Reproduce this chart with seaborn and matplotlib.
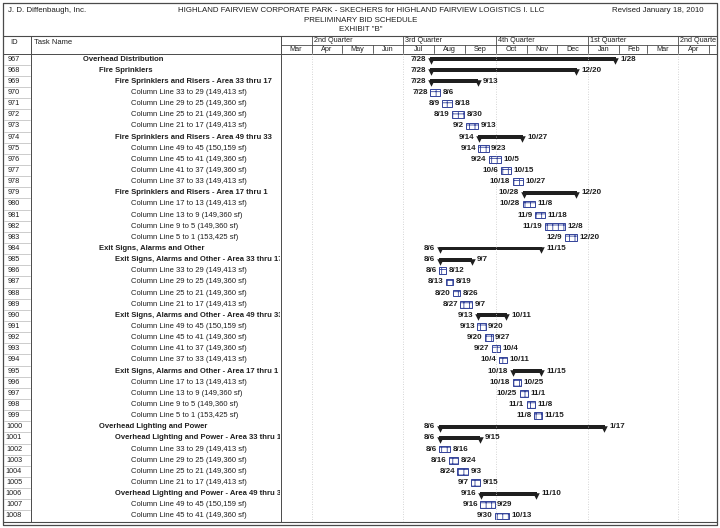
import numpy as np
import pandas as pd
import seaborn as sns
import matplotlib.pyplot as plt
import matplotlib.dates as mdates
from matplotlib import font_manager


sns.set_style('white')
installed = {f.name for f in font_manager.fontManager.ttflist}
narrow = 'Liberation Sans Narrow' in installed
plt.rcParams['font.family'] = (['Liberation Sans Narrow'] if narrow else []) + ['Liberation Sans', 'DejaVu Sans']
plt.rcParams['hatch.linewidth'] = 0.6
FS = 6.6 if narrow else 5.5      # the scanned exhibit uses a condensed face

INK = '#1f1f1f'
LINE = '#4a4a4a'
BLUE = '#33439a'

# ---- schedule data (read from the exhibit) ----
task_ids = list(range(967, 1009))

task_names = [
    'Overhead Distribution',
    'Fire Sprinklers',
    'Fire Sprinklers and Risers - Area 33 thru 17',
    'Column Line 33 to 29 (149,413 sf)',
    'Column Line 29 to 25 (149,360 sf)',
    'Column Line 25 to 21 (149,360 sf)',
    'Column Line 21 to 17 (149,413 sf)',
    'Fire Sprinklers and Risers - Area 49 thru 33',
    'Column Line 49 to 45 (150,159 sf)',
    'Column Line 45 to 41 (149,360 sf)',
    'Column Line 41 to 37 (149,360 sf)',
    'Column Line 37 to 33 (149,413 sf)',
    'Fire Sprinklers and Risers - Area 17 thru 1',
    'Column Line 17 to 13 (149,413 sf)',
    'Column Line 13 to 9 (149,360 sf)',
    'Column Line 9 to 5 (149,360 sf)',
    'Column Line 5 to 1 (153,425 sf)',
    'Exit Signs, Alarms and Other',
    'Exit Signs, Alarms and Other - Area 33 thru 17',
    'Column Line 33 to 29 (149,413 sf)',
    'Column Line 29 to 25 (149,360 sf)',
    'Column Line 25 to 21 (149,360 sf)',
    'Column Line 21 to 17 (149,413 sf)',
    'Exit Signs, Alarms and Other - Area 49 thru 33',
    'Column Line 49 to 45 (150,159 sf)',
    'Column Line 45 to 41 (149,360 sf)',
    'Column Line 41 to 37 (149,360 sf)',
    'Column Line 37 to 33 (149,413 sf)',
    'Exit Signs, Alarms and Other - Area 17 thru 1',
    'Column Line 17 to 13 (149,413 sf)',
    'Column Line 13 to 9 (149,360 sf)',
    'Column Line 9 to 5 (149,360 sf)',
    'Column Line 5 to 1 (153,425 sf)',
    'Overhead Lighting and Power',
    'Overhead Lighting and Power - Area 33 thru 17',
    'Column Line 33 to 29 (149,413 sf)',
    'Column Line 29 to 25 (149,360 sf)',
    'Column Line 25 to 21 (149,360 sf)',
    'Column Line 21 to 17 (149,413 sf)',
    'Overhead Lighting and Power - Area 49 thru 33',
    'Column Line 49 to 45 (150,159 sf)',
    'Column Line 45 to 41 (149,360 sf)',
]

task_levels = [1, 2, 3, 4, 4, 4, 4, 3, 4, 4, 4, 4, 3, 4, 4, 4, 4,
               2, 3, 4, 4, 4, 4, 3, 4, 4, 4, 4, 3, 4, 4, 4, 4,
               2, 3, 4, 4, 4, 4, 3, 4, 4]

task_start = [
    '2010-07-28', '2010-07-28', '2010-07-28', '2010-07-28', '2010-08-09', '2010-08-19', '2010-09-02',
    '2010-09-14', '2010-09-14', '2010-09-24', '2010-10-06', '2010-10-18',
    '2010-10-28', '2010-10-28', '2010-11-09', '2010-11-19', '2010-12-09',
    '2010-08-06', '2010-08-06', '2010-08-06', '2010-08-13', '2010-08-20', '2010-08-27',
    '2010-09-13', '2010-09-13', '2010-09-20', '2010-09-27', '2010-10-04',
    '2010-10-18', '2010-10-18', '2010-10-25', '2010-11-01', '2010-11-08',
    '2010-08-06', '2010-08-06', '2010-08-06', '2010-08-16', '2010-08-24', '2010-09-07',
    '2010-09-16', '2010-09-16', '2010-09-30',
]

task_finish = [
    '2011-01-28', '2010-12-20', '2010-09-13', '2010-08-06', '2010-08-18', '2010-08-30', '2010-09-13',
    '2010-10-27', '2010-09-23', '2010-10-05', '2010-10-15', '2010-10-27',
    '2010-12-20', '2010-11-08', '2010-11-18', '2010-12-08', '2010-12-20',
    '2010-11-15', '2010-09-07', '2010-08-12', '2010-08-19', '2010-08-26', '2010-09-07',
    '2010-10-11', '2010-09-20', '2010-09-27', '2010-10-04', '2010-10-11',
    '2010-11-15', '2010-10-25', '2010-11-01', '2010-11-08', '2010-11-15',
    '2011-01-17', '2010-09-15', '2010-08-16', '2010-08-24', '2010-09-03', '2010-09-15',
    '2010-11-10', '2010-09-29', '2010-10-13',
]

month_names = ['Mar', 'Apr', 'May', 'Jun', 'Jul', 'Aug', 'Sep', 'Oct', 'Nov', 'Dec',
               'Jan', 'Feb', 'Mar', 'Apr']
quarter_names = ['2nd Quarter', '3rd Quarter', '4th Quarter', '1st Quarter', '2nd Quarter']

df = pd.DataFrame({
    'id': [str(i) for i in task_ids],
    'name': task_names,
    'level': task_levels,
    'start': pd.to_datetime(task_start),
    'finish': pd.to_datetime(task_finish),
})
df['summary'] = df['level'] < 4
df['row'] = np.arange(len(df))
df['x0'] = mdates.date2num(df['start'].values)
df['x1'] = mdates.date2num(df['finish'].values) + 1
df['dur'] = df['x1'] - df['x0']
n_rows = len(df)

# ---- page layout in pixels ----
W, H = 720, 528
fig = plt.figure(figsize=(W / 100, H / 100), dpi=100)


def px_axes(x0, y0, x1, y1):
    ax = fig.add_axes([x0 / W, 1 - y1 / H, (x1 - x0) / W, (y1 - y0) / H])
    ax.patch.set_alpha(0)
    return ax


bg = px_axes(0, 0, W, H)
bg.set_xlim(0, W)
bg.set_ylim(H, 0)
bg.axis('off')

TOP, MID, HEAD, BOT = 36, 45, 53.5, 521.5
X_ID, X_NAME, X_RIGHT = 30.5, 280.5, 716.5

bg.plot([2.5, X_RIGHT, X_RIGHT, 2.5, 2.5], [2.5, 2.5, 525, 525, 2.5], color=LINE, lw=0.9)
bg.plot([2.5, X_RIGHT], [TOP, TOP], color=LINE, lw=0.8)
bg.plot([2.5, X_RIGHT], [HEAD, HEAD], color=LINE, lw=0.7)
bg.plot([2.5, X_RIGHT], [BOT, BOT], color=LINE, lw=0.8)
bg.plot([X_ID, X_ID], [TOP, BOT], color=LINE, lw=0.7)
bg.plot([X_NAME, X_NAME], [TOP, BOT], color=LINE, lw=0.7)

bg.text(8, 11, 'J. D. Diffenbaugh, Inc.', fontsize=FS + 0.2, color=INK, va='center')
bg.text(361, 11, 'HIGHLAND FAIRVIEW CORPORATE PARK - SKECHERS for HIGHLAND FAIRVIEW LOGISTICS I. LLC',
        fontsize=FS + 0.2, color=INK, va='center', ha='center')
bg.text(361, 20.5, 'PRELIMINARY BID SCHEDULE', fontsize=FS + 0.2, color=INK, va='center', ha='center')
bg.text(361, 29.5, 'EXHIBIT "B"', fontsize=FS + 0.2, color=INK, va='center', ha='center')
bg.text(704, 11, 'Revised January 18, 2010', fontsize=FS + 0.2, color=INK, va='center', ha='right')
bg.text(14, 42, 'ID', fontsize=FS, color=INK, va='center', ha='center')
bg.text(34, 42, 'Task Name', fontsize=FS, color=INK, va='center')

# ---- ID column ----
ix = px_axes(2.5, HEAD, X_ID, BOT)
ix.set_xlim(2.5, X_ID)
ix.set_ylim(n_rows - 0.5, -0.5)
ix.axis('off')
for r in range(n_rows - 1):
    ix.axhline(r + 0.5, 0.04, 0.98, color='#b8b8b8', lw=0.5)
for r, tid in zip(df['row'], df['id']):
    ix.text(14, r, tid, fontsize=FS - 0.3, color=INK, ha='center', va='center')

# ---- task name column ----
tx = px_axes(X_ID, HEAD, X_NAME - 1, BOT)
tx.set_xlim(X_ID, X_NAME - 1)
tx.set_ylim(n_rows - 0.5, -0.5)
tx.axis('off')
for r, name, lvl, summ in zip(df['row'], df['name'], df['level'], df['summary']):
    tx.text(83 + 16 * (lvl - 1), r, name, fontsize=FS, color=INK, va='center',
            fontweight='bold' if summ else 'normal', clip_on=True)

# ---- timescale ----
day_px = 1.005
x_left = mdates.date2num(np.datetime64('2010-03-01'))
x_right = x_left + (X_RIGHT - X_NAME) / day_px

hx = px_axes(X_NAME, TOP, X_RIGHT, HEAD)
hx.set_xlim(x_left, x_right)
hx.set_ylim(HEAD, TOP)
hx.axis('off')
month_starts = pd.date_range('2010-03-01', periods=len(month_names) + 1, freq='MS')
mnum = mdates.date2num(month_starts.values)
hx.axhline(MID, color=LINE, lw=0.6)
q = 0
for i in range(1, len(month_starts)):
    if month_starts[i].month in (1, 4, 7, 10):
        hx.plot([mnum[i], mnum[i]], [TOP, HEAD], color=LINE, lw=0.6)
    else:
        hx.plot([mnum[i], mnum[i]], [MID, HEAD], color=LINE, lw=0.6)
for i, name in enumerate(month_names):
    hx.text((mnum[i] + mnum[i + 1]) / 2, (MID + HEAD) / 2 + 0.3, name, fontsize=FS - 0.3,
            color=INK, ha='center', va='center', clip_on=True)
    if month_starts[i].month in (1, 4, 7, 10):
        hx.text(mnum[i] + 2, (TOP + MID) / 2 + 0.5, quarter_names[q], fontsize=FS - 0.3,
                color=INK, va='center', clip_on=True)
        q += 1

# ---- Gantt bars ----
gx = px_axes(X_NAME, HEAD, X_RIGHT, BOT)
for i in range(1, len(month_starts)):
    if month_starts[i].month in (1, 4, 7, 10):
        gx.axvline(mnum[i], color='#c8c8c8', lw=0.6, ls=(0, (1, 2)))

tasks = df[~df['summary']]
summ = df[df['summary']]

sns.barplot(data=tasks, x='dur', y='id', order=list(df['id']), orient='y', errorbar=None,
            width=0.6, left=tasks['x0'].values, color='white', saturation=1,
            facecolor='white', edgecolor=BLUE, hatch='+++', linewidth=0.7, ax=gx)
sns.barplot(data=summ, x='dur', y='id', order=list(df['id']), orient='y', errorbar=None,
            width=0.34, left=summ['x0'].values, color=INK, saturation=1, linewidth=0, ax=gx)
sns.scatterplot(x=np.r_[summ['x0'].values + 0.8, summ['x1'].values - 0.8],
                y=np.r_[summ['row'].values, summ['row'].values] + 0.17,
                marker='v', s=22, color=INK, linewidth=0, legend=False, ax=gx)

for r, x0, x1, s, f, is_s in zip(df['row'], df['x0'], df['x1'], df['start'], df['finish'], df['summary']):
    pad = 3.2 if is_s else 1.8
    gx.annotate(f'{s.month}/{s.day}', (x0, r), xytext=(-pad, 0), textcoords='offset points',
                ha='right', va='center', fontsize=FS + 0.3, fontweight='bold', color=INK)
    gx.annotate(f'{f.month}/{f.day}', (x1, r), xytext=(pad, 0), textcoords='offset points',
                ha='left', va='center', fontsize=FS + 0.3, fontweight='bold', color=INK)

gx.set_xlim(x_left, x_right)
gx.set_ylim(n_rows - 0.5, -0.5)
gx.set_xlabel('')
gx.set_ylabel('')
gx.set_xticks([])
gx.set_yticks([])
sns.despine(ax=gx, left=True, bottom=True)

fig.savefig('out.png', dpi=100)
